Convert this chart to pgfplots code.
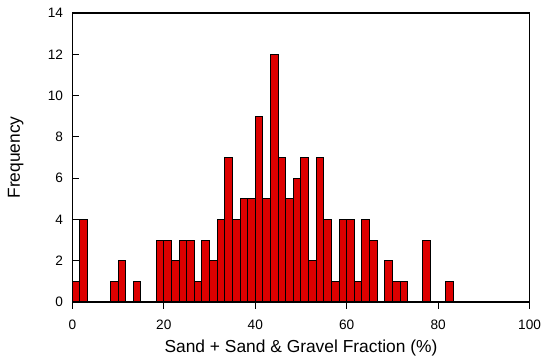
\documentclass[border=0pt]{standalone}
\usepackage{pgfplots}
\pgfplotsset{compat=1.18}
\usepackage{fontspec}
\setmainfont{Liberation Sans}
\definecolor{barred}{RGB}{221,0,0}
\begin{document}
\begin{tikzpicture}
\begin{axis}[
  scale only axis,
  width=342pt, height=216pt,
  xmin=0, xmax=100, ymin=0, ymax=14,
  xtick={0,20,40,60,80,100},
  ytick={0,2,4,6,8,10,12,14},
  tick align=inside,
  xtick pos=bottom, ytick pos=left,
  major tick length=5pt,
  tick style={black, line width=0.8pt},
  axis line style={black, line width=1pt},
  /pgf/number format/assume math mode=true,
  ticklabel style={font=\fontsize{10.2}{12}\selectfont},
  yticklabel style={xshift=-3.5pt},
  xticklabel style={yshift=-5pt, inner xsep=0pt},
  xlabel={Sand + Sand \& Gravel Fraction (\%)},
  ylabel={Frequency},
  xlabel style={yshift=-1pt, font=\fontsize{13}{15}\selectfont},
  every axis y label/.style={at={(axis description cs:0,0.5)}, xshift=-42.3pt, rotate=90, anchor=center, inner sep=6pt, font=\fontsize{13}{15}\selectfont},
  ybar, bar width=1.6667, bar shift=0pt,
  clip=false,
]
\addplot[fill=barred, draw=black, line width=0.75pt] coordinates {
(0.8333,1) (2.5,4) (9.1667,1) (10.8333,2) (14.1667,1)
(19.1667,3) (20.8333,3) (22.5,2) (24.1667,3) (25.8333,3)
(27.5,1) (29.1667,3) (30.8333,2) (32.5,4) (34.1667,7)
(35.8333,4) (37.5,5) (39.1667,5) (40.8333,9) (42.5,5)
(44.1667,12) (45.8333,7) (47.5,5) (49.1667,6) (50.8333,7)
(52.5,2) (54.1667,7) (55.8333,4) (57.5,1) (59.1667,4)
(60.8333,4) (62.5,1) (64.1667,4) (65.8333,3) (69.1667,2)
(70.8333,1) (72.5,1) (77.5,3) (82.5,1)
};
\end{axis}
\path ([yshift=3pt]current bounding box.north);
\end{tikzpicture}
\end{document}
